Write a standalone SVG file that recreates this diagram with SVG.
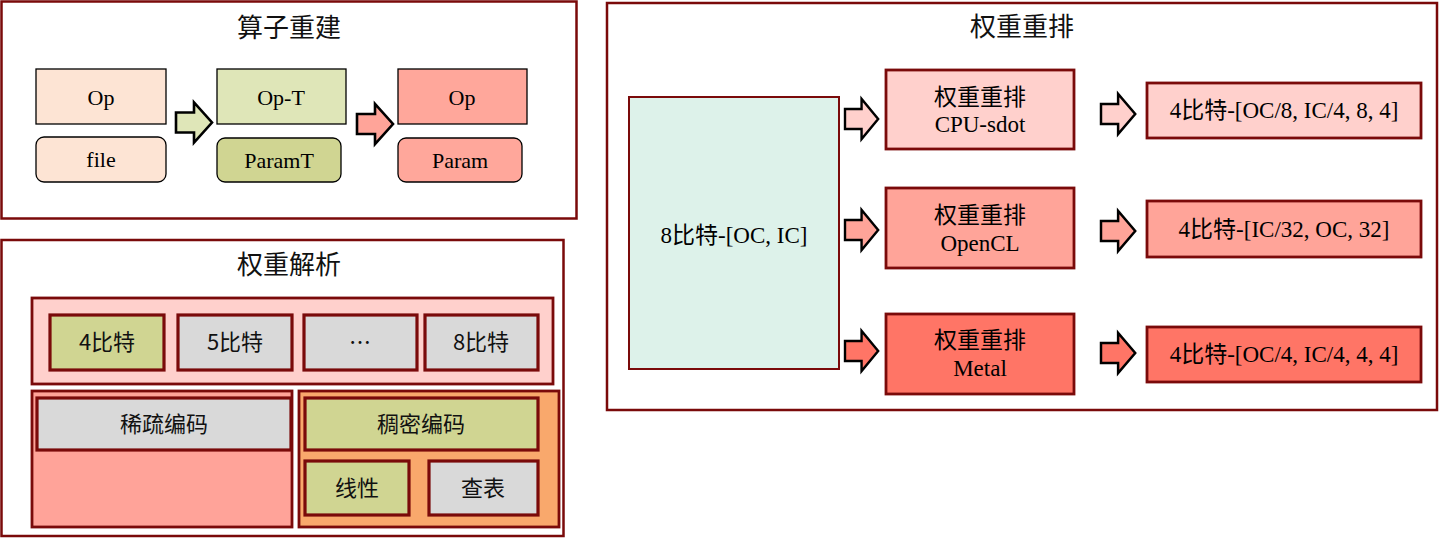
<svg xmlns="http://www.w3.org/2000/svg" width="1440" height="538" viewBox="0 0 1440 538">
<style>
.panel{fill:#fff;stroke:#7a0a0a;stroke-width:2.5}
.b1{stroke:#000;stroke-width:1.3}
.b2{stroke:#7a0a0a;stroke-width:3.2}
.b3{stroke:#7a0a0a;stroke-width:2.8}
.arr{stroke:#000;stroke-width:2.6;stroke-linejoin:miter}
.ser{font-family:"Liberation Serif","Noto Sans CJK SC",serif;font-size:22px;fill:#000;text-anchor:middle}
.cjk{font-family:"Noto Sans CJK SC","Liberation Sans",sans-serif;font-size:22px;fill:#111;text-anchor:middle}
.ttl{font-family:"Noto Sans CJK SC",sans-serif;font-size:26px;fill:#111;text-anchor:middle}
.st{font-family:"Liberation Serif","Noto Sans CJK SC",serif;font-size:23px;fill:#000;text-anchor:middle}
</style>
<defs>
<path id="arrow" class="arr" d="M0,-10 H18 V-20 L36,0 L18,20 V10 H0 Z"/>
</defs>
<rect width="1440" height="538" fill="#fff"/>

<g id="panel-rebuild">
<rect class="panel" x="1.5" y="1.5" width="575" height="217"/>
<text class="ttl" x="289" y="37">算子重建</text>
</g>
<g id="op1"><rect class="b1" x="36" y="69" width="130" height="55" fill="#fde4d4"/><text class="ser" x="101" y="105">Op</text></g>
<g id="file"><rect class="b1" x="36" y="137" width="130" height="45" rx="8" fill="#fde4d4"/><text class="ser" x="101" y="167">file</text></g>
<g id="opT"><rect class="b1" x="217" y="69" width="129" height="55" fill="#dfe6b8"/><text class="ser" x="281" y="105">Op-T</text></g>
<g id="paramT"><rect class="b1" x="217" y="138" width="124" height="44" rx="8" fill="#d0d592"/><text class="ser" x="279" y="168">ParamT</text></g>
<g id="op2"><rect class="b1" x="398" y="69" width="129" height="55" fill="#ffa79b"/><text class="ser" x="462" y="105">Op</text></g>
<g id="param"><rect class="b1" x="398" y="138" width="124" height="44" rx="8" fill="#ffa79b"/><text class="ser" x="460" y="168">Param</text></g>

<g id="panel-parse">
<rect class="panel" x="1.5" y="240" width="562" height="296"/>
<text class="ttl" x="289" y="274">权重解析</text>
</g>
<g id="bits-group"><rect class="b3" x="32" y="298" width="521" height="86" fill="#ffd0cc"/></g>
<g id="bit4"><rect class="b2" x="50" y="315" width="114" height="55" fill="#d0d592"/><text class="cjk" x="107" y="350">4比特</text></g>
<g id="bit5"><rect class="b2" x="178" y="315" width="114" height="55" fill="#d9d9d9"/><text class="cjk" x="235" y="350">5比特</text></g>
<g id="bitdots"><rect class="b2" x="304" y="315" width="113" height="55" fill="#d9d9d9"/><text class="cjk" x="360" y="350">…</text></g>
<g id="bit8"><rect class="b2" x="425" y="315" width="113" height="55" fill="#d9d9d9"/><text class="cjk" x="481" y="350">8比特</text></g>
<g id="sparse-group"><rect class="b3" x="32" y="391" width="260" height="136" fill="#ffa399"/></g>
<g id="sparse"><rect class="b2" x="37" y="398" width="254" height="52" fill="#d9d9d9"/><text class="cjk" x="164" y="432">稀疏编码</text></g>
<g id="dense-group"><rect class="b3" x="299" y="391" width="260" height="136" fill="#f9a86c"/></g>
<g id="dense"><rect class="b2" x="305" y="398" width="233" height="52" fill="#d0d592"/><text class="cjk" x="421" y="432">稠密编码</text></g>
<g id="linear"><rect class="b2" x="305" y="461" width="104" height="54" fill="#d0d592"/><text class="cjk" x="357" y="496">线性</text></g>
<g id="lut"><rect class="b2" x="429" y="461" width="109" height="54" fill="#d9d9d9"/><text class="cjk" x="483" y="496">查表</text></g>

<g id="panel-reorder">
<rect class="panel" x="607" y="3" width="830" height="407"/>
<text class="ttl" x="1022" y="36">权重重排</text>
</g>
<g id="src8"><rect x="629" y="97" width="210" height="272" fill="#ddf2ea" stroke="#7a0a0a" stroke-width="2"/><text class="st" x="734" y="243">8比特-[OC, IC]</text></g>
<g id="cpu"><rect class="b3" x="886" y="70" width="188" height="79" fill="#ffd0cc"/><text class="st" x="980" y="105">权重重排</text><text class="st" x="980" y="132">CPU-sdot</text></g>
<g id="opencl"><rect class="b3" x="886" y="188" width="188" height="80" fill="#ffa499"/><text class="st" x="980" y="223">权重重排</text><text class="st" x="980" y="251">OpenCL</text></g>
<g id="metal"><rect class="b3" x="886" y="314" width="188" height="80" fill="#ff7566"/><text class="st" x="980" y="348">权重重排</text><text class="st" x="980" y="376">Metal</text></g>
<g id="out-cpu"><rect class="b3" x="1147" y="83" width="274" height="55" fill="#ffd0cc"/><text class="st" x="1284" y="118" font-size="24">4比特-[OC/8, IC/4, 8, 4]</text></g>
<g id="out-opencl"><rect class="b3" x="1147" y="201" width="274" height="56" fill="#ffa499"/><text class="st" x="1284" y="237" font-size="24">4比特-[IC/32, OC, 32]</text></g>
<g id="out-metal"><rect class="b3" x="1147" y="327" width="274" height="55" fill="#ff7566"/><text class="st" x="1284" y="362" font-size="24">4比特-[OC/4, IC/4, 4, 4]</text></g>

<g id="connectors">
<use href="#arrow" transform="translate(176,122.5)" fill="#dfe6b8"/>
<use href="#arrow" transform="translate(357,124)" fill="#ffa499"/>
<use href="#arrow" transform="translate(845,119) scale(0.92,1)" fill="#ffd0cc"/>
<use href="#arrow" transform="translate(845,230) scale(0.92,1)" fill="#ffa499"/>
<use href="#arrow" transform="translate(845,351) scale(0.92,1)" fill="#ff7566"/>
<use href="#arrow" transform="translate(1101,114) scale(0.95,1)" fill="#ffd0cc"/>
<use href="#arrow" transform="translate(1101,231) scale(0.95,1)" fill="#ffa499"/>
<use href="#arrow" transform="translate(1101,353) scale(0.95,1)" fill="#ff7566"/>
</g>
</svg>
